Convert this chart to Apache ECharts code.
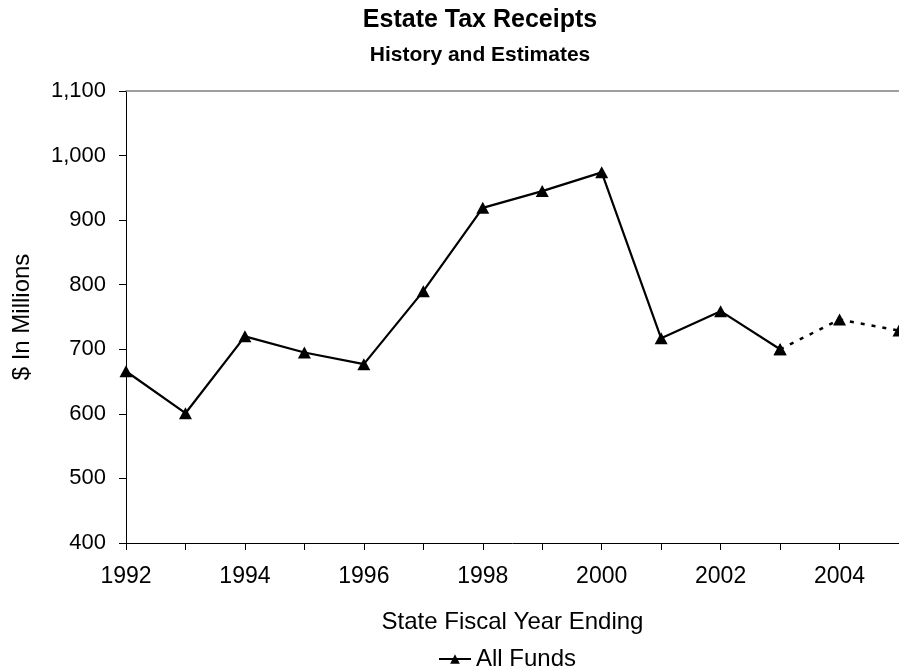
<!DOCTYPE html>
<html>
<head>
<meta charset="utf-8">
<script src="https://cdn.jsdelivr.net/npm/echarts@6/dist/echarts.min.js"></script>
<style>
html,body{margin:0;padding:0;background:#fff;}
#chart{width:899px;height:669px;}
</style>
</head>
<body>
<div id="chart"></div>
<script>
const years = ['1992','1993','1994','1995','1996','1997','1998','1999','2000','2001','2002','2003','2004','2005'];
const actualValues = [666, 601, 720, 695, 677, 790, 919, 945, 974, 717, 759, 700, null, null];
const estimateValues = [null, null, null, null, null, null, null, null, null, null, null, 700, 746, 729];
const yTicks = [400, 500, 600, 700, 800, 900, 1000, 1100];

const FONT = '"Liberation Sans", Arial, sans-serif';
const chart = echarts.init(document.getElementById('chart'), null, {renderer: 'canvas'});

chart.setOption({
  backgroundColor: '#ffffff',
  animation: false,
  textStyle: {fontFamily: FONT, color: '#000'},
  title: [
    {text: 'Estate Tax Receipts', left: 480, top: 8, padding: 0, textAlign: 'center',
     textStyle: {fontFamily: FONT, fontSize: 25, fontWeight: 'bold', color: '#000'}},
    {text: 'History and Estimates', left: 480, top: 45, padding: 0, textAlign: 'center',
     textStyle: {fontFamily: FONT, fontSize: 21, fontWeight: 'bold', color: '#000'}}
  ],
  legend: {
    data: ['All Funds'],
    left: 433, top: 642,
    itemWidth: 32, itemHeight: 12, itemGap: 10,
    textStyle: {fontFamily: FONT, fontSize: 24, color: '#000'}
  },
  grid: {left: 126, top: 91, width: 780, height: 452, containLabel: false},
  xAxis: [
    {
      type: 'category', data: years, boundaryGap: false,
      name: 'State Fiscal Year Ending', nameLocation: 'middle', nameGap: 67,
      nameTextStyle: {fontFamily: FONT, fontSize: 24, color: '#000'},
      axisLine: {lineStyle: {color: '#000', width: 1}},
      axisTick: {show: true, interval: 0, inside: false, length: 7, lineStyle: {color: '#000'}},
      axisLabel: {interval: 1, margin: 22, fontFamily: FONT, fontSize: 23, color: '#000'},
      splitLine: {show: false}
    },
    {
      type: 'category', data: years, boundaryGap: false, position: 'top',
      axisLine: {show: true, lineStyle: {color: '#808080', width: 1.5}},
      axisTick: {show: false}, axisLabel: {show: false}, splitLine: {show: false}
    }
  ],
  yAxis: {
    type: 'value', min: yTicks[0], max: yTicks[yTicks.length - 1], interval: 100,
    name: '$ In Millions', nameLocation: 'middle', nameGap: 92, nameRotate: 90,
    nameTextStyle: {fontFamily: FONT, fontSize: 24, color: '#000'},
    axisLine: {show: true, lineStyle: {color: '#000', width: 1}},
    axisTick: {show: true, inside: false, length: 7, lineStyle: {color: '#000'}},
    axisLabel: {margin: 20, fontFamily: FONT, fontSize: 22, color: '#000',
      formatter: v => v.toLocaleString('en-US')},
    splitLine: {show: false}
  },
  series: [
    {
      name: 'All Funds', type: 'line', data: actualValues, connectNulls: false,
      symbol: 'triangle', symbolSize: [13, 12], showAllSymbol: true,
      itemStyle: {color: '#000'},
      lineStyle: {color: '#000', width: 2.2, type: 'solid'},
      z: 3
    },
    {
      name: 'Estimates', type: 'line', data: estimateValues, connectNulls: false,
      symbol: 'triangle', symbolSize: [13, 12], showAllSymbol: true,
      itemStyle: {color: '#000'},
      lineStyle: {color: '#000', width: 2.5, type: [4, 7]},
      z: 3
    }
  ]
});
</script>
</body>
</html>
